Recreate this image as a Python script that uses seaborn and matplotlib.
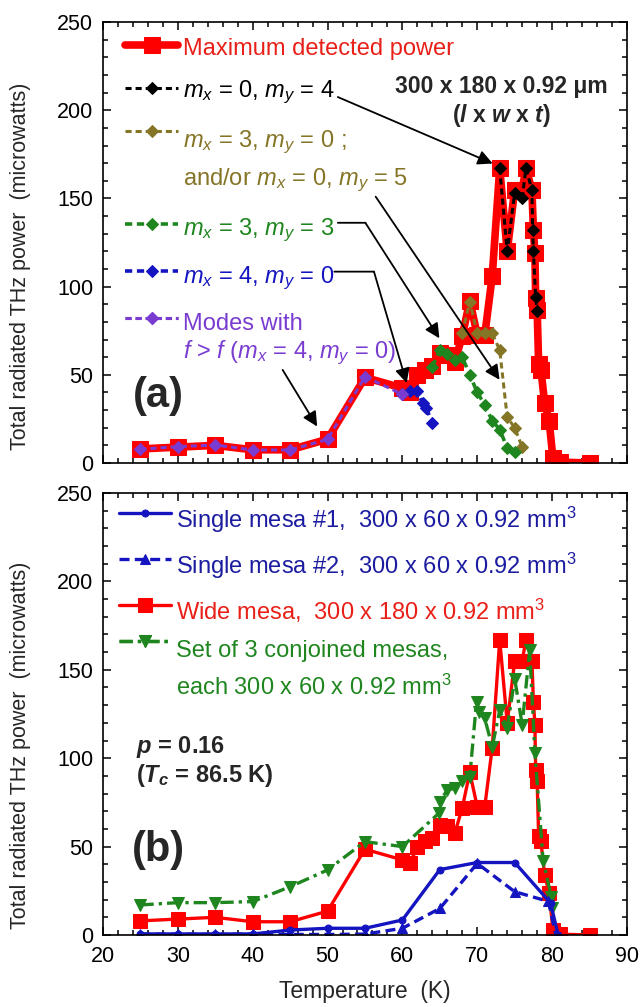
import matplotlib
matplotlib.use("Agg")
import matplotlib.pyplot as plt
import seaborn as sns
from matplotlib.ticker import MultipleLocator

# ---------------- data ----------------
T_max = [25, 30, 35, 40, 45, 50, 55, 60, 61, 62, 63, 64, 65, 66, 67, 68, 69, 70, 71, 72,
         73, 74, 75, 76, 76.5, 77.3, 77.5, 77.7, 77.8, 78.0, 78.2, 78.5, 79.0, 79.6, 80.1, 81.0, 85.0]
P_max = [8, 9, 10, 7.5, 7.5, 13.5, 48.5, 42.5, 40.5, 50, 53, 55, 62.5, 61.5, 57.5, 72, 92, 72.5, 72.5, 106,
         167, 120, 155, 155, 167, 155, 132, 119, 93.5, 87, 56, 53, 34, 24, 3, 0.5, 0]

T_m04 = [73, 74, 75, 76, 76.5, 77.3, 77.4, 77.5, 77.8, 78.0]
P_m04 = [167, 120, 153, 150, 167, 155, 132, 120, 94, 86]

T_m30 = [68, 69, 70, 71, 72, 73, 74, 75, 76]
P_m30 = [73.5, 91.5, 73.5, 73.5, 73.5, 64, 26, 20, 9]

T_m33 = [64, 65, 66, 67, 68, 69, 70, 71, 72, 73, 74, 75]
P_m33 = [54.7, 64, 62, 58.5, 60, 50, 40, 33, 24, 19, 8.5, 6]

T_m40 = [60, 61, 62, 62.7, 63.2, 64]
P_m40 = [39, 41, 41, 34, 31, 22.5]

T_high = [25, 30, 35, 40, 45, 50, 55, 60]
P_high = [7.8, 9.3, 10.2, 7.4, 7.4, 13.4, 48.9, 39]

T_s1 = [25, 30, 35, 40, 45, 50, 55, 60, 65, 70, 75, 79.8, 80.8]
P_s1 = [0.6, 0.6, 0.6, 0.6, 2.8, 3.8, 3.8, 8.5, 37, 41, 41, 18, 0]

T_s2 = [25, 30, 35, 40, 45, 50, 55, 60, 65, 70, 75, 79.5, 80.5]
P_s2 = [0.5, 0.5, 0.3, 0.5, 0.3, 0.3, 0.5, 3.8, 15, 40.5, 24.5, 19, 0]

T_set = [25, 30, 35, 40, 45, 50, 55, 60, 64.9, 65, 66, 67, 68, 69, 69.9, 70.2, 71, 72, 73, 74,
         75, 76, 77, 77.7, 78.8, 79.9, 80]
P_set = [17, 18.3, 18.3, 18.9, 27.3, 36.8, 52.8, 50, 69, 75.5, 82, 83, 87, 89.5, 132, 126, 122.5, 106.5, 127, 117,
         145, 119, 161, 103, 42, 21.7, 15]

x_ticks = [20, 30, 40, 50, 60, 70, 80, 90]
y_ticks = [0, 50, 100, 150, 200, 250]

lab_a = ["Maximum detected power",
         r"$m_x$ = 0, $m_y$ = 4",
         r"$m_x$ = 3, $m_y$ = 0 ;",
         r"and/or $m_x$ = 0, $m_y$ = 5",
         r"$m_x$ = 3, $m_y$ = 3",
         r"$m_x$ = 4, $m_y$ = 0",
         "Modes with",
         r"$f$ > $f$ ($m_x$ = 4, $m_y$ = 0)"]
lab_b = [r"Single mesa #1,  300 x 60 x 0.92 mm$^3$",
         r"Single mesa #2,  300 x 60 x 0.92 mm$^3$",
         r"Wide mesa,  300 x 180 x 0.92 mm$^3$",
         "Set of 3 conjoined mesas,",
         r"each 300 x 60 x 0.92 mm$^3$"]

# ---------------- style ----------------
sns.set_style("ticks")
plt.rcParams["font.family"] = ["Liberation Sans", "DejaVu Sans"]
plt.rcParams["mathtext.fontset"] = "custom"
plt.rcParams["mathtext.rm"] = "Liberation Sans"
plt.rcParams["mathtext.it"] = "Liberation Sans:italic"
plt.rcParams["mathtext.bf"] = "Liberation Sans:bold"
plt.rcParams["mathtext.bfit"] = "Liberation Sans:italic:bold"

RED = "#ff0000"
BLK = "#000000"
OLV = "#857526"
GRN = "#1f861f"
BLU = "#1414c0"
PUR = "#7a3cd0"
NAVY = "#1c1ca0"
RTXT = "#e82018"

fig = plt.figure(figsize=(6.42, 10.07), dpi=100)
ax_a = fig.add_axes([0.1604, 0.5402, 0.8162, 0.4379])
ax_b = fig.add_axes([0.1604, 0.0715, 0.8162, 0.4389])


def draw(ax, T, P, **kw):
    sns.lineplot(x=T, y=P, ax=ax, estimator=None, sort=False, legend=False, **kw)
    return ax.lines[-1]


def key(ax, handle, x, y, hl):
    lg = ax.legend(handles=[handle], labels=[""], loc="center left", bbox_to_anchor=(x, y),
                   frameon=False, borderaxespad=0, borderpad=0, handlelength=hl,
                   handletextpad=0, fontsize=17, numpoints=1)
    ax.add_artist(lg)

# ---------------- panel (a) ----------------
l_red = draw(ax_a, T_max, P_max, color=RED, lw=5.5, marker="s", ms=12, mec=RED, mfc=RED)
l_blk = draw(ax_a, T_m04, P_m04, color=BLK, lw=2.2, marker="D", ms=6.5, mec=BLK, mfc=BLK)
l_olv = draw(ax_a, T_m30, P_m30, color=OLV, lw=2.2, marker="D", ms=6.5, mec=OLV, mfc=OLV)
l_grn = draw(ax_a, T_m33, P_m33, color=GRN, lw=2.6, marker="D", ms=6.5, mec=GRN, mfc=GRN)
l_blu = draw(ax_a, T_m40, P_m40, color=BLU, lw=2.6, marker="D", ms=6.5, mec=BLU, mfc=BLU)
l_pur = draw(ax_a, T_high, P_high, color=PUR, lw=2.2, marker="D", ms=6.5, mec=PUR, mfc=PUR)
for ln in (l_blk, l_olv, l_grn, l_blu, l_pur):
    ln.set_linestyle((0, (2.0, 1.3)))

# legend keys (a)
for h, yk in zip([l_red, l_blk, l_olv, l_grn, l_blu, l_pur],
                 [0.943, 0.8454, 0.7472, 0.5358, 0.4308, 0.3231]):
    key(ax_a, h, 0.042, yk, 2.25)
# legend texts (a)
for s, c, yb in zip(lab_a, [RTXT, BLK, OLV, OLV, GRN, BLU, PUR, PUR],
                    [0.9243, 0.8299, 0.7168, 0.630, 0.5168, 0.4073, 0.3018, 0.2376]):
    ax_a.text(0.1527, yb, s, transform=ax_a.transAxes, ha="left", va="baseline",
              fontsize=17, color=c)

ax_a.text(0.76, 0.853, "300 x 180 x 0.92 \u03bcm", transform=ax_a.transAxes,
          ha="center", va="center", fontsize=16.5, fontweight="bold")
ax_a.text(0.76, 0.789, r"($\mathbfit{l}$ x $\mathbfit{w}$ x $\mathbfit{t}$)", transform=ax_a.transAxes,
          ha="center", va="center", fontsize=16.5, fontweight="bold")
ax_a.text(0.058, 0.152, "(a)", transform=ax_a.transAxes, ha="left", va="center",
          fontsize=30, fontweight="bold")

arrow = dict(arrowstyle="-|>", color="black", lw=1.3, mutation_scale=22, shrinkA=0, shrinkB=0)
plain = dict(arrowstyle="-", color="black", lw=1.3, shrinkA=0, shrinkB=0)
ax_a.annotate("", xy=(72.06, 169.8), xytext=(51.37, 207.5), arrowprops=arrow)
ax_a.annotate("", xy=(72.98, 47.2), xytext=(56.43, 151.0), arrowprops=arrow)
ax_a.annotate("", xy=(55.05, 136.2), xytext=(51.37, 136.2), arrowprops=plain)
ax_a.annotate("", xy=(64.94, 70.7), xytext=(55.05, 136.2), arrowprops=arrow)
ax_a.annotate("", xy=(56.2, 108.5), xytext=(50.91, 108.5), arrowprops=plain)
ax_a.annotate("", xy=(60.57, 45.3), xytext=(56.2, 108.5), arrowprops=arrow)
ax_a.annotate("", xy=(48.61, 20.7), xytext=(44.0, 52.8), arrowprops=arrow)

# ---------------- panel (b) ----------------
b_red = draw(ax_b, T_max, P_max, color=RED, lw=2.4, marker="s", ms=10.5, mec=RED, mfc=RED)
b_set = draw(ax_b, T_set, P_set, color=GRN, lw=2.4, marker="v", ms=8.5, mec=GRN, mfc=GRN)
b_set.set_linestyle((0, (4, 1.5, 1, 1.5)))
b_s2 = draw(ax_b, T_s2, P_s2, color=BLU, lw=2.4, marker="^", ms=6.5, mec=BLU, mfc=BLU)
b_s2.set_linestyle((0, (3, 1.6)))
b_s1 = draw(ax_b, T_s1, P_s1, color=BLU, lw=2.4, marker="o", ms=5, mec=BLU, mfc=BLU)

for h, yk in zip([b_s1, b_s2, b_red, b_set], [0.9502, 0.8462, 0.7421, 0.6606]):
    key(ax_b, h, 0.03, yk, 2.2)
for s, c, yb in zip(lab_b, [NAVY, NAVY, RTXT, GRN, GRN],
                    [0.920, 0.816, 0.7124, 0.6296, 0.5428]):
    ax_b.text(0.1393, yb, s, transform=ax_b.transAxes, ha="left", va="baseline",
              fontsize=17, color=c)

ax_b.text(0.063, 0.425, r"$\mathbfit{p}$ = 0.16", transform=ax_b.transAxes,
          ha="left", va="center", fontsize=17, fontweight="bold")
ax_b.text(0.063, 0.362, r"($\mathbfit{T}_\mathbfit{c}$ = 86.5 K)", transform=ax_b.transAxes,
          ha="left", va="center", fontsize=17, fontweight="bold")
ax_b.text(0.055, 0.192, "(b)", transform=ax_b.transAxes, ha="left", va="center",
          fontsize=30, fontweight="bold")

# ---------------- axes ----------------
for ax in (ax_a, ax_b):
    ax.set_xlim(20, 90)
    ax.set_ylim(0, 250)
    ax.set_xticks(x_ticks)
    ax.set_yticks(y_ticks)
    ax.xaxis.set_minor_locator(MultipleLocator(2))
    ax.yaxis.set_minor_locator(MultipleLocator(10))
    ax.tick_params(which="both", direction="in", top=True, right=True, width=1.1, colors="black")
    ax.tick_params(which="major", length=6, labelsize=15.5)
    ax.tick_params(axis="y", which="major", pad=7)
    ax.tick_params(axis="x", which="major", pad=8)
    ax.tick_params(which="minor", length=3.5)
    for s in ax.spines.values():
        s.set_linewidth(1.2)
        s.set_color("black")
    ax.set_ylabel("Total radiated THz power  (microwatts)", fontsize=15.5)
    ax.set_xlabel("")

ax_a.yaxis.set_label_coords(-0.137, 0.447)
ax_b.yaxis.set_label_coords(-0.137, 0.43)
ax_a.tick_params(labelbottom=False)
ax_b.set_xlabel("Temperature  (K)", fontsize=16.5, labelpad=9)

fig.savefig("out.png", dpi=100)
